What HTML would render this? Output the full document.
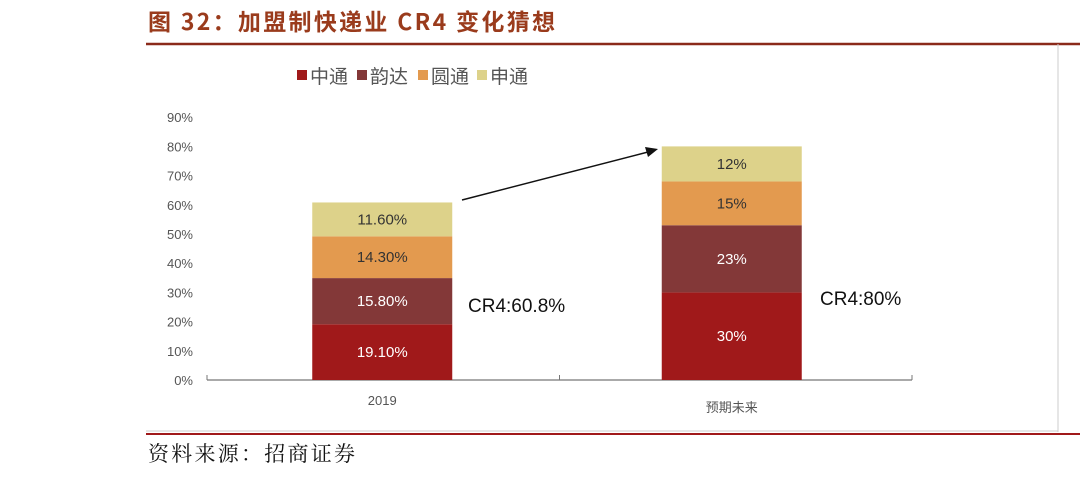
<!DOCTYPE html>
<html><head><meta charset="utf-8"><style>
body{margin:0;background:#fff;width:1080px;height:473px;overflow:hidden;font-family:"Liberation Sans","Noto Sans CJK SC",sans-serif;}
</style></head><body>
<svg width="1080" height="473" xmlns="http://www.w3.org/2000/svg">
<text x="148" y="30" font-size="23" font-weight="bold" fill="#9a3b1c" textLength="407" font-family="'Noto Sans CJK SC',sans-serif">图 32：加盟制快递业 CR4 变化猜想</text>
<line x1="146" y1="44" x2="1080" y2="44" stroke="#8b2a1a" stroke-width="2.5"/>
<line x1="1058" y1="44" x2="1058" y2="432" stroke="#ccc" stroke-width="1"/>
<line x1="146" y1="431" x2="1058" y2="431" stroke="#ccc" stroke-width="1"/>
<line x1="146" y1="434" x2="1080" y2="434" stroke="#a0191a" stroke-width="2"/>
<text x="148" y="461" font-size="21" fill="#111" textLength="207" font-family="'Noto Serif CJK SC','Noto Sans CJK SC',sans-serif">资料来源：招商证券</text>
<g id="legend"></g>
<g id="axis"></g>
<g id="bars"></g>
<line x1="462" y1="200" x2="648" y2="152" stroke="#111" stroke-width="1.5"/>
<polygon points="658,149 645,147 648,157" fill="#111"/>
<text x="468" y="312" font-size="19" fill="#111">CR4:60.8%</text>
<text x="820" y="305" font-size="19" fill="#111">CR4:80%</text>
</svg>
<script>
const categories=["2019","预期未来"];
const seriesNames=["中通","韵达","圆通","申通"];
const s_zto=[19.1,30];
const s_yunda=[15.8,23];
const s_yto=[14.3,15];
const s_sto=[11.6,12];
const labels_zto=["19.10%","30%"];
const labels_yunda=["15.80%","23%"];
const labels_yto=["14.30%","15%"];
const labels_sto=["11.60%","12%"];
const yTicks=[0,10,20,30,40,50,60,70,80,90];
const colors=["#a0191a","#833838","#e39a4f","#ddd28a"];
const textColors=["#fff","#fff","#333","#333"];
const NS="http://www.w3.org/2000/svg";
const y0=380,yPer=2.92,xL=207,xR=912,bw=140;
const y=v=>y0-v*yPer;
const xc=i=>xL+(xR-xL)*(i+0.5)/categories.length+(i==0?-1:-4);
function mk(t,a,p){const e=document.createElementNS(NS,t);for(const k in a)e.setAttribute(k,a[k]);p.appendChild(e);return e;}
const ax=document.getElementById('axis');
yTicks.forEach(t=>{const e=mk('text',{x:193,y:y(t)+5,'font-size':13,fill:'#555','text-anchor':'end'},ax);e.textContent=t+'%';

});
const base=mk('line',{x1:xL,y1:y0,x2:xR,y2:y0,stroke:'#777','stroke-width':1.2},ax);


for(let i=0;i<=categories.length;i++){const xx=xL+(xR-xL)*i/categories.length;const tk=mk('line',{x1:xx,y1:y0,x2:xx,y2:y0-5,stroke:'#777'},ax);

}
categories.forEach((c,i)=>{const e=mk('text',{x:xc(i),y:i==0?405:412,'font-size':13,fill:'#555','text-anchor':'middle'},ax);e.textContent=c;

});
const bg=document.getElementById('bars');
const series=[s_zto,s_yunda,s_yto,s_sto],lbls=[labels_zto,labels_yunda,labels_yto,labels_sto];
categories.forEach((c,i)=>{let cum=0;series.forEach((s,k)=>{const v=s[i];
const r=mk('rect',{x:xc(i)-bw/2,y:y(cum+v),width:bw,height:v*yPer,fill:colors[k]},bg);


const t=mk('text',{x:xc(i),y:y(cum+v/2)+5,'font-size':15,fill:textColors[k],'text-anchor':'middle'},bg);t.textContent=lbls[k][i];


cum+=v;});});
const lg=document.getElementById('legend');
const lx=[297,357,418,477];
seriesNames.forEach((n,k)=>{const r=mk('rect',{x:lx[k],y:70,width:10,height:10,fill:colors[k]},lg);


const t=mk('text',{x:lx[k]+13,y:83,'font-size':19,fill:'#555'},lg);t.textContent=n;

});
</script>
</body></html>
